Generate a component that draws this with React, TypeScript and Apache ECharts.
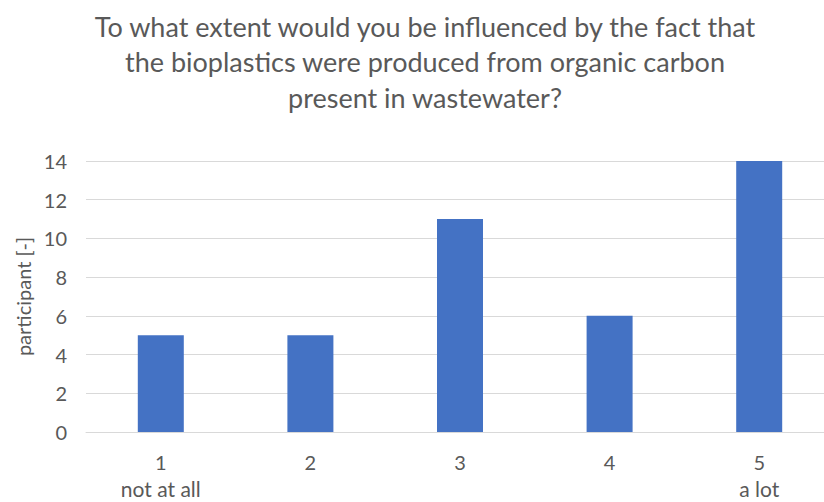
import React, { useEffect, useRef } from "react";
import * as echarts from "echarts";

const titleLines = [
  "To what extent would you be influenced by the fact that",
  "the bioplastics were produced from organic carbon",
  "present in wastewater?",
];
const categoryNumbers = ["1", "2", "3", "4", "5"];
const categoryNotes = ["not at all", "", "", "", "a lot"];
const values = [5, 5, 11, 6, 14];
const yAxisName = "participant [-]";

const FONT = "Lato";
const TEXT = "#595959";

export default function App() {
  const ref = useRef<HTMLDivElement>(null);
  useEffect(() => {
    if (!ref.current) return;
    const chart = echarts.init(ref.current, undefined, { renderer: "svg" });
    chart.setOption({
      animation: false,
      backgroundColor: "#ffffff",
      title: {
        text: titleLines.join("\n"),
        left: 420,
        top: 4,
        textAlign: "center",
        textStyle: {
          fontFamily: FONT,
          fontSize: 27,
          fontWeight: "normal",
          color: TEXT,
          lineHeight: 35.2,
          align: "center",
        },
      },
      grid: {
        left: 86,
        top: 161,
        width: 748,
        height: 271,
        containLabel: false,
        outerBoundsMode: "none",
      },
      xAxis: {
        type: "category",
        data: categoryNumbers,
        axisLine: { show: true, lineStyle: { color: "#D9D9D9", width: 1 } },
        axisTick: { show: false },
        axisLabel: {
          color: TEXT,
          fontFamily: FONT,
          fontSize: 20,
          lineHeight: 28,
          margin: 16,
          formatter: (v: string, i: number) =>
            categoryNotes[i] ? `{n|${v}}\n{t|${categoryNotes[i]}}` : `{n|${v}}`,
          rich: {
            n: { fontFamily: FONT, fontSize: 20, lineHeight: 28, color: TEXT },
            t: { fontFamily: FONT, fontSize: 21, lineHeight: 24, color: TEXT },
          },
        },
      },
      yAxis: {
        type: "value",
        min: 0,
        max: 14,
        interval: 2,
        name: yAxisName,
        nameLocation: "middle",
        nameGap: 52,
        nameRotate: 90,
        nameTextStyle: { color: TEXT, fontFamily: FONT, fontSize: 20 },
        axisLine: { show: false },
        axisTick: { show: false },
        axisLabel: { color: TEXT, fontFamily: FONT, fontSize: 20, margin: 19 },
        splitLine: { lineStyle: { color: "#D9D9D9", width: 1 } },
      },
      series: [
        {
          type: "bar",
          data: values,
          barWidth: 46,
          itemStyle: { color: "#4472C4" },
        },
      ],
    });
    return () => chart.dispose();
  }, []);
  return (
    <div
      ref={ref}
      style={{ position: "fixed", left: 0, top: 0, width: 824, height: 502, background: "#fff" }}
    />
  );
}
